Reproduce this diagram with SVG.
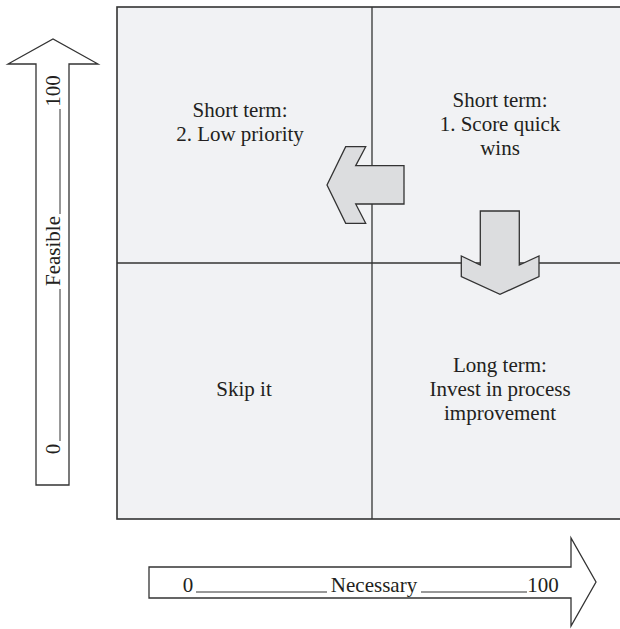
<svg xmlns="http://www.w3.org/2000/svg" width="620" height="629" viewBox="0 0 620 629">
  <style>
    text { font-family: "Liberation Serif", "Times New Roman", serif; font-size: 21px; fill: #231f20; }
    .mid { text-anchor: middle; }
    .grid { fill: #f1f2f4; stroke: #333; stroke-width: 1.6; }
    .divider { stroke: #333; stroke-width: 1.3; fill: none; }
    .axis { fill: #fff; stroke: #333; stroke-width: 1.3; stroke-linejoin: miter; }
    .rule { stroke: #333; stroke-width: 1; }
    .move { fill: #dcdddf; stroke: #333; stroke-width: 1.3; stroke-linejoin: miter; }
  </style>

  <!-- 2x2 matrix -->
  <g id="matrix">
    <rect class="grid" x="117" y="7" width="510" height="512"/>
    <line class="divider" x1="372" y1="7" x2="372" y2="519"/>
    <line class="divider" x1="117" y1="263" x2="627" y2="263"/>
  </g>

  <g id="quad-top-left">
    <text class="mid" x="240" y="117">Short term:</text>
    <text class="mid" x="240" y="141">2. Low priority</text>
  </g>
  <g id="quad-top-right">
    <text class="mid" x="500" y="107">Short term:</text>
    <text class="mid" x="500" y="131">1. Score quick</text>
    <text class="mid" x="500" y="155">wins</text>
  </g>
  <g id="quad-bottom-left">
    <text class="mid" x="244" y="396">Skip it</text>
  </g>
  <g id="quad-bottom-right">
    <text class="mid" x="500" y="372">Long term:</text>
    <text class="mid" x="500" y="396">Invest in process</text>
    <text class="mid" x="500" y="420">improvement</text>
  </g>

  <!-- vertical axis: Feasible -->
  <g id="axis-feasible">
    <polygon class="axis" points="36,485 36,64 8,64 53,39 98,64 69,64 69,485"/>
    <text class="mid" transform="translate(60,91) rotate(-90)">100</text>
    <line class="rule" x1="60" y1="109" x2="60" y2="214"/>
    <text class="mid" transform="translate(60,251) rotate(-90)">Feasible</text>
    <line class="rule" x1="60" y1="289" x2="60" y2="441"/>
    <text class="mid" transform="translate(60,449) rotate(-90)">0</text>
  </g>

  <!-- horizontal axis: Necessary -->
  <g id="axis-necessary">
    <polygon class="axis" points="149,567 571,567 571,538 596,582 571,626 571,598 149,598"/>
    <text class="mid" x="188" y="592">0</text>
    <line class="rule" x1="196" y1="592" x2="327" y2="592"/>
    <text class="mid" x="374" y="592">Necessary</text>
    <line class="rule" x1="421" y1="592" x2="527" y2="592"/>
    <text class="mid" x="543" y="592">100</text>
  </g>

  <!-- movement arrows between quadrants -->
  <g id="connectors">
    <polygon class="move" points="327,185 345.7,146.7 365.7,146.7 355.7,165.7 404,165.7 404,204 355.7,204 365.7,223.3 345.7,223.3"/>
    <polygon class="move" points="480.3,211 519.3,211 519.3,265 539,256 539,276.7 500,294.3 461.3,276.7 461.3,256 480.3,265"/>
  </g>
</svg>
